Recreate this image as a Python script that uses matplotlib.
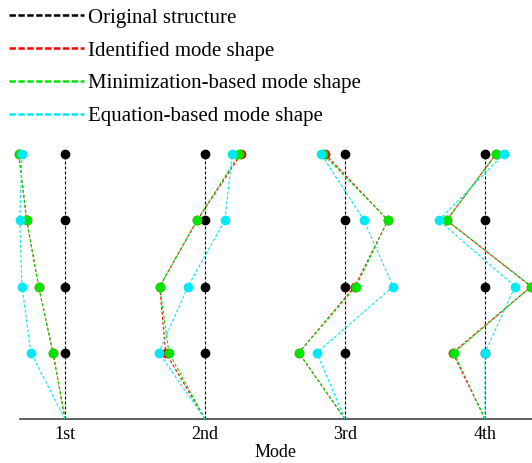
import numpy as np
import matplotlib
matplotlib.use("Agg")
import matplotlib.pyplot as plt
from matplotlib.lines import Line2D

plt.rcParams["font.family"] = ["Liberation Serif", "DejaVu Serif"]
plt.rcParams["lines.scale_dashes"] = False

modes = ["1st", "2nd", "3rd", "4th"]
floors = [1, 2, 3, 4]   # storey levels, ground = 0

# normalized mode shape values, floor 1 -> floor 4, one row per mode
identified = [[-0.26, -0.57, -0.83, -1.00],
              [-0.85, -0.98, -0.17, 0.78],
              [-1.00, 0.21, 0.93, -0.43],
              [-0.70, 1.00, -0.83, 0.24]]
minimization = [[-0.26, -0.57, -0.83, -1.00],
                [-0.78, -0.98, -0.17, 0.74],
                [-1.00, 0.24, 0.93, -0.48],
                [-0.67, 1.00, -0.83, 0.24]]
equation = [[-0.74, -0.93, -0.98, -0.93],
            [-1.00, -0.37, 0.43, 0.59],
            [-0.61, 1.04, 0.41, -0.52],
            [0.00, 0.65, -1.00, 0.41]]

scale = 0.33
series = [
    ("Identified mode shape", identified, "#ff0000"),
    ("Minimization-based mode shape", minimization, "#00e600"),
    ("Equation-based mode shape", equation, "#00eaf5"),
]

W, H = 532, 463
fig = plt.figure(figsize=(W / 100, H / 100), dpi=100)
ax = fig.add_axes([20 / W, 44 / H, 512 / W, 265 / H])

dash_plot = (0, (2.2, 1.4))
ys = [0] + floors

for i in range(len(modes)):
    xc = i + 1
    ax.plot([xc] * len(ys), ys, color="black", lw=0.8, ls=dash_plot, clip_on=False, zorder=2)
    ax.plot([xc] * len(floors), floors, "o", color="black", ms=6, clip_on=False, zorder=3)
    for k, (name, vals, col) in enumerate(series):
        xs = [xc] + [xc + scale * v for v in vals[i]]
        ax.plot(xs, ys, color=col, lw=0.8, ls=dash_plot, clip_on=False, zorder=4 + k)
        ax.plot(xs[1:], ys[1:], "o", color=col, ms=6, clip_on=False, zorder=4 + k)

ax.set_xlim(1 - 45 / 140, 4 + 47 / 140)
ax.set_ylim(0, 4)
ax.set_xticks(range(1, len(modes) + 1))
ax.set_xticklabels(modes, fontsize=13)
ax.set_yticks([])
ax.tick_params(axis="x", length=0, pad=5)
ax.set_xlabel("Mode", fontsize=13, labelpad=1)
for s in ["top", "left", "right"]:
    ax.spines[s].set_visible(False)
ax.spines["bottom"].set_color("#444444")
ax.spines["bottom"].set_linewidth(1.2)

handles = [Line2D([], [], color="black", lw=1.8, ls=(0, (4.6, 1.8)))]
labels = ["Original structure"]
for name, vals, col in series:
    handles.append(Line2D([], [], color=col, lw=1.8, ls=(0, (4.6, 1.8))))
    labels.append(name)
fig.legend(handles, labels, loc="upper left", bbox_to_anchor=(9 / W, 1 - 8 / H),
           frameon=False, fontsize=15, handlelength=3.6, handletextpad=0.2,
           labelspacing=0.63, borderpad=0, borderaxespad=0)

fig.savefig("out.png", dpi=100)
